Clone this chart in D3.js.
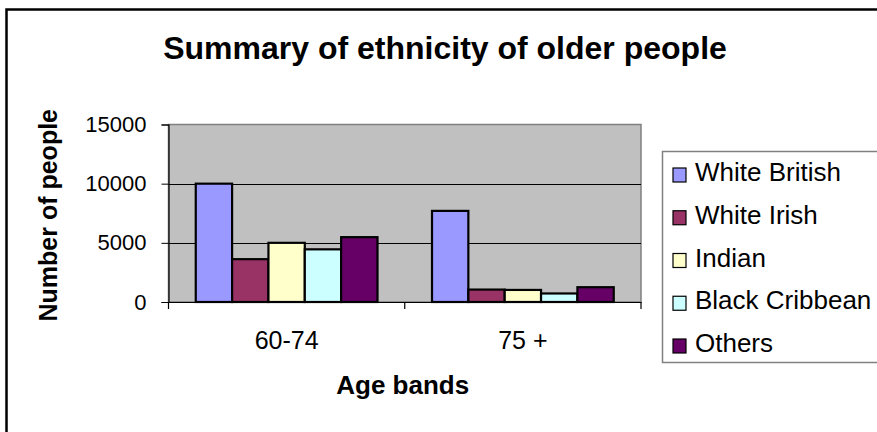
<!DOCTYPE html>
<html>
<head>
<meta charset="utf-8">
<script src="https://cdn.jsdelivr.net/npm/d3@7"></script>
<style>
  html, body { margin: 0; padding: 0; background: #fff; }
  svg { display: block; }
  text { font-family: "Liberation Sans", Arial, sans-serif; fill: #000; }
</style>
</head>
<body>
<svg id="chart" width="877" height="432"></svg>
<script>
// Age bands on the category axis
const categories = ["60-74", "75 +"];
// Ethnic groups (one series each)
const series = ["White British", "White Irish", "Indian", "Black Cribbean", "Others"];
// Number of people per group, in category order
const whiteBritish = [10000, 7700];
const whiteIrish = [3620, 1050];
const indian = [5000, 1020];
const blackCaribbean = [4450, 720];
const others = [5480, 1250];
const yTicks = [0, 5000, 10000, 15000];

const values = [whiteBritish, whiteIrish, indian, blackCaribbean, others];
const colors = ["#9999FF", "#993366", "#FFFFCC", "#CCFFFF", "#660066"];

const svg = d3.select("#chart");

// outer chart frame
svg.append("rect")
  .attr("x", 6.5).attr("y", 9.5)
  .attr("width", 1000).attr("height", 1000)
  .attr("fill", "#fff").attr("stroke", "#000").attr("stroke-width", 2.5);

const plot = { left: 168.5, right: 641, top: 124.5, bottom: 302 };

const x0 = d3.scaleBand().domain(categories).range([plot.left, plot.right]).padding(0);
const x1 = d3.scaleBand().domain(series).range([0, x0.bandwidth()])
  .paddingInner(0).paddingOuter(0.75);
const y = d3.scaleLinear().domain([0, 15000]).range([plot.bottom, plot.top]);

// plot area background
svg.append("rect")
  .attr("x", plot.left).attr("y", plot.top)
  .attr("width", plot.right - plot.left).attr("height", plot.bottom - plot.top)
  .attr("fill", "#C0C0C0").attr("stroke", "#808080").attr("stroke-width", 1.5);

// horizontal gridlines
svg.append("g").selectAll("line")
  .data(yTicks.filter(d => d > 0 && d < 15000))
  .join("line")
  .attr("x1", plot.left).attr("x2", plot.right)
  .attr("y1", d => Math.round(y(d)) + 0.5).attr("y2", d => Math.round(y(d)) + 0.5)
  .attr("stroke", "#000").attr("stroke-width", 1);

// bars
const rows = [];
categories.forEach((c, ci) => series.forEach((s, si) =>
  rows.push({ cat: c, ser: s, value: values[si][ci], color: colors[si] })));

svg.append("g").selectAll("rect")
  .data(rows)
  .join("rect")
  .attr("x", d => x0(d.cat) + x1(d.ser))
  .attr("y", d => y(d.value))
  .attr("width", x1.bandwidth())
  .attr("height", d => y(0) - y(d.value))
  .attr("fill", d => d.color)
  .attr("stroke", "#000").attr("stroke-width", 2.2);

// y axis
const yAxis = svg.append("g")
  .attr("transform", `translate(${plot.left},0)`)
  .call(d3.axisLeft(y).tickValues(yTicks).tickSize(7).tickPadding(15).tickFormat(d3.format("d")));
yAxis.select(".domain").attr("stroke", "#000").attr("stroke-width", 1.2);
yAxis.selectAll(".tick line").attr("stroke", "#000");
yAxis.selectAll("text").style("font-size", "22px").attr("fill", "#000");

// x axis with boundary ticks between categories
const xAxis = svg.append("g")
  .attr("transform", `translate(0,${plot.bottom})`)
  .call(d3.axisBottom(x0).tickSize(0).tickPadding(29));
xAxis.select(".domain").attr("stroke", "#000").attr("stroke-width", 1.2);
xAxis.selectAll("text").style("font-size", "25px").attr("fill", "#000");
const edges = categories.map(c => x0(c)).concat([plot.right]);
xAxis.selectAll(".edge")
  .data(edges)
  .join("line")
  .attr("class", "edge")
  .attr("x1", d => d).attr("x2", d => d)
  .attr("y1", 0).attr("y2", 7)
  .attr("stroke", "#000").attr("stroke-width", 1.2);

// title
svg.append("text")
  .attr("x", 445).attr("y", 59)
  .attr("text-anchor", "middle")
  .style("font-size", "32px").style("font-weight", "bold")
  .text("Summary of ethnicity of older people");

// axis titles
svg.append("text")
  .attr("x", (plot.left + plot.right) / 2 - 2).attr("y", 394)
  .attr("text-anchor", "middle")
  .style("font-size", "26px").style("font-weight", "bold")
  .text("Age bands");

svg.append("text")
  .attr("transform", `translate(57,${(plot.top + plot.bottom) / 2 + 2}) rotate(-90)`)
  .attr("text-anchor", "middle")
  .style("font-size", "25px").style("font-weight", "bold")
  .text("Number of people");

// legend
const legend = svg.append("g");
legend.append("rect")
  .attr("x", 662.5).attr("y", 151.5)
  .attr("width", 400).attr("height", 211)
  .attr("fill", "#fff").attr("stroke", "#808080").attr("stroke-width", 1.5);

const ly = d3.scalePoint().domain(series).range([181, 352]);
const item = legend.selectAll(".item")
  .data(series.map((s, i) => ({ s, c: colors[i] })))
  .join("g").attr("class", "item")
  .attr("transform", d => `translate(0,${ly(d.s)})`);
item.append("rect")
  .attr("x", 673).attr("y", -13).attr("width", 13).attr("height", 14)
  .attr("fill", d => d.c).attr("stroke", "#000").attr("stroke-width", 1.2);
item.append("text")
  .attr("x", 695).attr("y", 0)
  .style("font-size", "26px")
  .text(d => d.s);
</script>
</body>
</html>
